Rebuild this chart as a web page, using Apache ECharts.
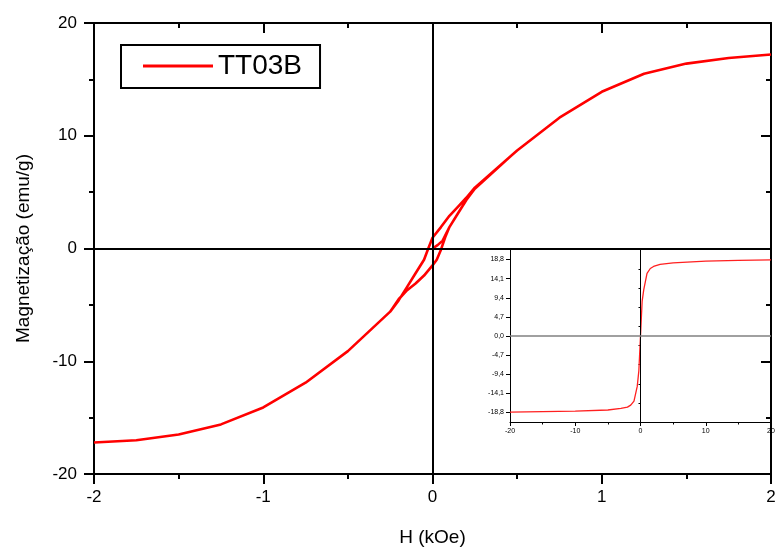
<!DOCTYPE html>
<html>
<head>
<meta charset="utf-8">
<title>TT03B – curva de histerese</title>
<script src="https://cdn.jsdelivr.net/npm/echarts@6/dist/echarts.min.js"></script>
<style>
  html, body { margin: 0; padding: 0; background: #fff; }
  #chart { width: 775px; height: 550px; }
</style>
</head>
<body>
<div id="chart"></div>
<script>
// Initial magnetization curve (H in kOe, M in emu/g)
const virginH = [0, 0.03, 0.06, 0.1, 0.15, 0.2, 0.25, 0.5, 0.75, 1, 1.25, 1.5, 1.75, 2];
const virginM = [0, 0.3, 0.7, 1.9, 3.1, 4.3, 5.3, 8.7, 11.6, 13.9, 15.5, 16.4, 16.9, 17.2];

// Descending branch (+2 kOe -> -2 kOe)
const descH = [2, 1.75, 1.5, 1.25, 1, 0.75, 0.5, 0.25, 0.2, 0.15, 0.1, 0.05, 0, -0.025, -0.05, -0.1, -0.15, -0.2, -0.25, -0.5, -0.75, -1, -1.25, -1.5, -1.75, -2];
const descM = [17.2, 16.9, 16.4, 15.5, 13.9, 11.6, 8.7, 5.4, 4.5, 3.7, 2.9, 1.9, 0.95, 0, -1.0, -2.2, -3.4, -4.6, -5.6, -9.1, -11.9, -14.1, -15.6, -16.5, -17.0, -17.2];

// Ascending branch (-2 kOe -> +2 kOe)
const ascH = [-2, -1.75, -1.5, -1.25, -1, -0.75, -0.5, -0.25, -0.2, -0.15, -0.1, -0.05, 0, 0.025, 0.05, 0.075, 0.1, 0.15, 0.2, 0.25, 0.5, 0.75, 1, 1.25, 1.5, 1.75, 2];
const ascM = [-17.2, -17.0, -16.5, -15.6, -14.1, -11.9, -9.1, -5.6, -4.5, -3.7, -3.1, -2.4, -1.5, -1.0, -0.1, 1.0, 1.9, 3.1, 4.3, 5.3, 8.7, 11.6, 13.9, 15.5, 16.4, 16.9, 17.2];

// Full-field loop shown in the inset (H in kOe)
const insetH = [-20, -15, -10, -5, -3, -2, -1.5, -1, -0.5, -0.25, 0, 0.25, 0.5, 1, 1.5, 2, 3, 5, 10, 15, 20];
const insetM = [-18.7, -18.6, -18.5, -18.2, -17.8, -17.5, -17.0, -16.0, -12.4, -8.5, 0, 8.5, 11.4, 15.4, 16.6, 17.1, 17.6, 18.0, 18.4, 18.6, 18.7];

// Tick values
const mainXTicks = [-2, -1, 0, 1, 2];
const mainYTicks = [-20, -10, 0, 10, 20];
const insetXTicks = [-20, -10, 0, 10, 20];
const insetYTicks = [-18.8, -14.1, -9.4, -4.7, 0, 4.7, 9.4, 14.1, 18.8];
const insetYMinor = [-16.45, -11.75, -7.05, -2.35, 2.35, 7.05, 11.75, 16.45];

const seriesName = 'TT03B';
const xTitle = 'H (kOe)';
const yTitle = 'Magnetização (emu/g)';

const pairs = (hs, ms) => hs.map((h, i) => [h, ms[i]]);
const loopData = [].concat(pairs(virginH, virginM), pairs(descH, descM), pairs(ascH, ascM));
const insetData = pairs(insetH, insetM);

const FONT = "'Liberation Sans', Arial, sans-serif";
const black = '#000';

function frameAxis(extra) {
  return Object.assign({
    type: 'value',
    splitLine: { show: false },
    axisLine: { show: true, onZero: false, lineStyle: { color: black, width: 2 } },
    axisTick: { show: true, inside: true, length: 10, lineStyle: { color: black, width: 2 } },
    minorTick: { show: true, splitNumber: 2, length: 5, lineStyle: { color: black, width: 2 } },
    axisLabel: { show: false }
  }, extra);
}

const chart = echarts.init(document.getElementById('chart'), null, { renderer: 'canvas' });

chart.setOption({
  animation: false,
  backgroundColor: '#fff',
  textStyle: { fontFamily: FONT },
  legend: {
    data: [seriesName],
    left: 121,
    top: 45,
    orient: 'horizontal',
    padding: [7, 18, 8, 22],
    borderColor: black,
    borderWidth: 2,
    icon: 'rect',
    itemWidth: 70,
    itemHeight: 3,
    textStyle: { fontSize: 28, color: black, fontFamily: FONT },
    selectedMode: false
  },
  grid: [
    { left: 94, top: 23, width: 677, height: 451, containLabel: false, outerBoundsMode: 'none' },
    { left: 510, top: 250, width: 261, height: 172, containLabel: false, outerBoundsMode: 'none' }
  ],
  xAxis: [
    frameAxis({
      gridIndex: 0, position: 'bottom', min: mainXTicks[0], max: mainXTicks[mainXTicks.length - 1], interval: 1,
      axisTick: { show: true, inside: false, length: 10, lineStyle: { color: black, width: 2 } },
      axisLabel: { show: true, fontSize: 17, color: black, margin: 15, fontFamily: FONT },
      name: xTitle, nameLocation: 'middle', nameGap: 54,
      nameTextStyle: { fontSize: 19, color: black, fontFamily: FONT }
    }),
    frameAxis({ gridIndex: 0, position: 'top', min: -2, max: 2, interval: 1 }),
    {
      type: 'value', gridIndex: 1, position: 'bottom',
      min: insetXTicks[0], max: insetXTicks[insetXTicks.length - 1], interval: 10,
      splitLine: { show: false },
      axisLine: { show: true, onZero: false, lineStyle: { color: black, width: 1 } },
      axisTick: { show: true, inside: false, length: 4, lineStyle: { color: black, width: 1 } },
      minorTick: { show: true, splitNumber: 2, length: 2.5, lineStyle: { color: black, width: 1 } },
      axisLabel: { show: true, fontSize: 7, color: black, margin: 6, fontFamily: FONT }
    }
  ],
  yAxis: [
    frameAxis({
      gridIndex: 0, position: 'left', min: mainYTicks[0], max: mainYTicks[mainYTicks.length - 1], interval: 10,
      axisTick: { show: true, inside: false, length: 10, lineStyle: { color: black, width: 2 } },
      axisLabel: { show: true, fontSize: 17, color: black, margin: 17, fontFamily: FONT },
      name: yTitle, nameLocation: 'middle', nameGap: 61, nameRotate: 90,
      nameTextStyle: { fontSize: 19, color: black, fontFamily: FONT }
    }),
    frameAxis({ gridIndex: 0, position: 'right', min: -20, max: 20, interval: 10 }),
    {
      type: 'value', gridIndex: 1, position: 'left', min: -21.15, max: 21.15,
      splitLine: { show: false },
      axisLine: { show: true, onZero: false, lineStyle: { color: black, width: 1 } },
      axisTick: { show: true, inside: false, length: 4, customValues: insetYTicks, lineStyle: { color: black, width: 1 } },
      axisLabel: {
        show: true, fontSize: 7, color: black, margin: 6, fontFamily: FONT,
        customValues: insetYTicks,
        formatter: v => Number(v).toFixed(1).replace('.', ',')
      }
    },
    {
      type: 'value', gridIndex: 1, position: 'left', min: -21.15, max: 21.15,
      splitLine: { show: false },
      axisLine: { show: false },
      axisTick: { show: true, inside: false, length: 2, customValues: insetYMinor, lineStyle: { color: black, width: 1 } },
      axisLabel: { show: false }
    }
  ],
  series: [
    {
      name: 'zero-main', type: 'line', xAxisIndex: 0, yAxisIndex: 0, data: [], z: 1,
      markLine: {
        silent: true, symbol: ['none', 'none'], label: { show: false },
        emphasis: { disabled: true },
        lineStyle: { color: black, width: 2, type: 'solid' },
        data: [{ xAxis: 0 }, { yAxis: 0 }]
      }
    },
    {
      name: seriesName, type: 'line', xAxisIndex: 0, yAxisIndex: 0,
      data: loopData, showSymbol: false, symbol: 'none', smooth: false, z: 3,
      lineStyle: { color: '#ff0000', width: 2.6 },
      itemStyle: { color: '#ff0000' },
      emphasis: { disabled: true }
    },
    {
      name: 'zero-inset', type: 'line', xAxisIndex: 2, yAxisIndex: 2, data: [], z: 1,
      markLine: {
        silent: true, symbol: ['none', 'none'], label: { show: false },
        emphasis: { disabled: true },
        data: [
          { xAxis: 0, lineStyle: { color: black, width: 1, type: 'solid' } },
          { yAxis: 0, lineStyle: { color: '#808080', width: 1.5, type: 'solid' } }
        ]
      }
    },
    {
      name: 'inset', type: 'line', xAxisIndex: 2, yAxisIndex: 2,
      data: insetData, showSymbol: false, symbol: 'none', z: 3,
      lineStyle: { color: '#ff2020', width: 1.3 },
      emphasis: { disabled: true }
    }
  ]
});
</script>
</body>
</html>
